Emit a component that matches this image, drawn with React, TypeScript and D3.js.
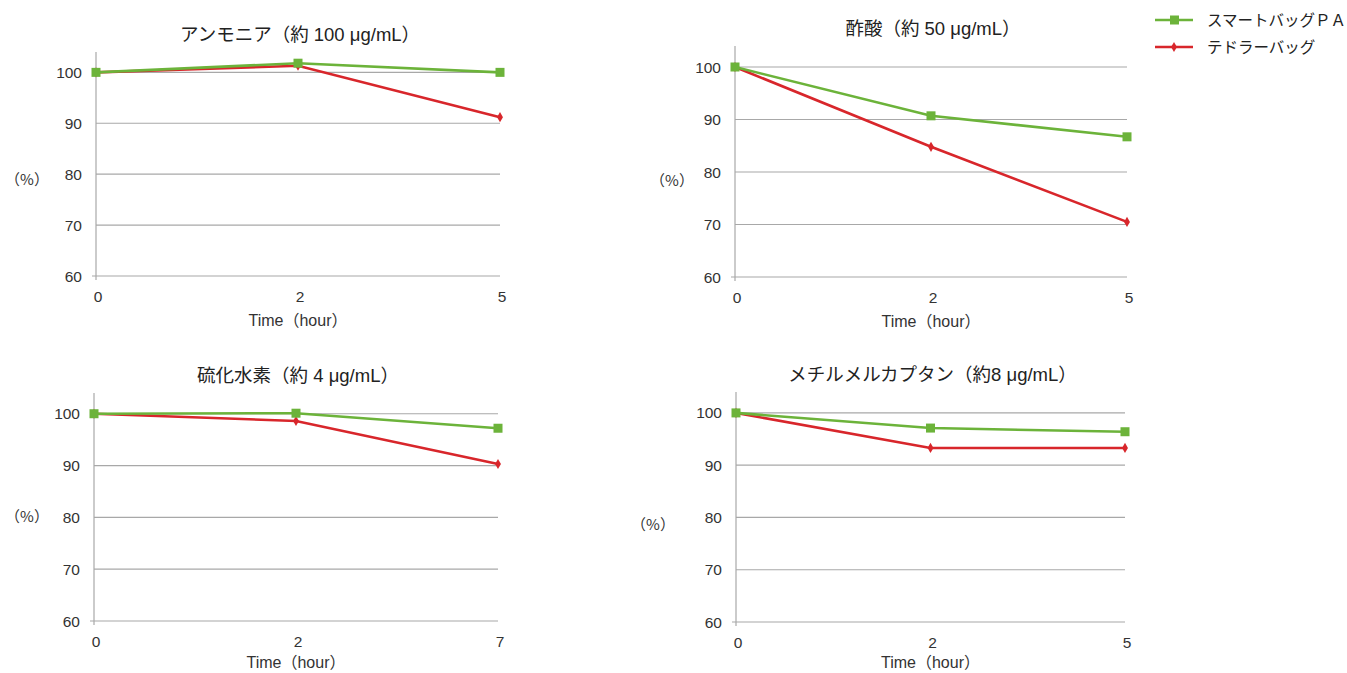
import React, { useEffect, useRef } from 'react';
import * as d3 from 'd3';

// chart data
const panelTitles = [
  'アンモニア（約 100 μg/mL）',
  '酢酸（約 50 μg/mL）',
  '硫化水素（約 4 μg/mL）',
  'メチルメルカプタン（約8 μg/mL）',
];
const timeTicks = [
  ['0', '2', '5'],
  ['0', '2', '5'],
  ['0', '2', '7'],
  ['0', '2', '5'],
];
const smartBagPA = [
  [100, 101.8, 100],
  [100, 90.7, 86.7],
  [100, 100.1, 97.2],
  [100, 97.1, 96.4],
];
const tedlarBag = [
  [100, 101.3, 91.2],
  [100, 84.8, 70.5],
  [100, 98.6, 90.3],
  [100, 93.3, 93.3],
];
const yTicks = [60, 70, 80, 90, 100];
const seriesNames = ['スマートバッグＰＡ', 'テドラーバッグ'];

const GREEN = '#6cb33a';
const RED = '#d8262b';
const GRID = '#a8a8a8';
const TEXT = '#333333';
const FONT = "'Liberation Sans', 'Noto Sans CJK JP', sans-serif";

// plot boxes for the four panels
const boxes = [
  { left: 96, right: 500, top: 52, bottom: 276, pctX: 27, pctY: 179 },
  { left: 735, right: 1127, top: 46, bottom: 277, pctX: 672, pctY: 180 },
  { left: 94, right: 498, top: 393, bottom: 621, pctX: 27, pctY: 516 },
  { left: 736, right: 1125, top: 392, bottom: 622, pctX: 653, pctY: 524 },
];

const App = () => {
  const svgRef = useRef<SVGSVGElement>(null);

  useEffect(() => {
    const svg = d3.select(svgRef.current);
    svg.selectAll('*').remove();

    boxes.forEach((b, i) => {
      const g = svg.append('g');
      const x = d3.scalePoint<string>().domain(timeTicks[i]).range([b.left, b.right]);
      const y = d3.scaleLinear().domain([60, 104]).range([b.bottom, b.top]);

      // gridlines
      g.selectAll('.grid')
        .data(yTicks)
        .enter().append('line')
        .attr('x1', d => (d === 60 ? b.left - 4 : b.left))
        .attr('x2', b.right)
        .attr('y1', d => y(d))
        .attr('y2', d => y(d))
        .attr('stroke', GRID)
        .attr('stroke-width', 1.2);

      // y axis line
      g.append('line')
        .attr('x1', b.left).attr('x2', b.left)
        .attr('y1', y(104)).attr('y2', y(60) + 4)
        .attr('stroke', GRID)
        .attr('stroke-width', 1.2);

      // y tick labels
      g.selectAll('.ylab')
        .data(yTicks)
        .enter().append('text')
        .attr('x', b.left - 14)
        .attr('y', d => y(d) + 5.5)
        .attr('text-anchor', 'end')
        .style('font-family', FONT)
        .style('font-size', '15.5px')
        .style('fill', TEXT)
        .text(d => d);

      // x tick labels
      g.selectAll('.xlab')
        .data(timeTicks[i])
        .enter().append('text')
        .attr('x', d => (x(d) as number) + 2)
        .attr('y', y(60) + 26)
        .attr('text-anchor', 'middle')
        .style('font-family', FONT)
        .style('font-size', '15.5px')
        .style('fill', TEXT)
        .text(d => d);

      // axis title
      g.append('text')
        .attr('x', (b.left + b.right) / 2)
        .attr('y', Math.min(y(60) + 50, 668))
        .attr('text-anchor', 'middle')
        .style('font-family', FONT)
        .style('font-size', '16px')
        .style('fill', TEXT)
        .text('Time（hour）');

      g.append('text')
        .attr('x', b.pctX)
        .attr('y', b.pctY + 5.5)
        .attr('text-anchor', 'middle')
        .style('font-family', "'Noto Sans CJK JP', sans-serif")
        .style('font-size', '15px')
        .style('fill', TEXT)
        .text('（%）');

      // panel title
      g.append('text')
        .attr('x', (b.left + b.right) / 2 + 2)
        .attr('y', y(104) - 11)
        .attr('text-anchor', 'middle')
        .style('font-family', FONT)
        .style('font-size', '18.5px')
        .style('fill', '#222')
        .text(panelTitles[i]);

      const line = d3.line<number>()
        .x((_, j) => x(timeTicks[i][j]) as number)
        .y(d => y(d));

      // tedlar bag (red, diamonds)
      g.append('path')
        .datum(tedlarBag[i])
        .attr('fill', 'none')
        .attr('stroke', RED)
        .attr('stroke-width', 2.6)
        .attr('d', line);
      g.selectAll('.dia')
        .data(tedlarBag[i])
        .enter().append('path')
        .attr('d', d3.symbol(d3.symbolDiamond, 30)())
        .attr('transform', (d, j) => `translate(${x(timeTicks[i][j])},${y(d)})`)
        .attr('fill', RED);

      // smart bag PA (green, squares)
      g.append('path')
        .datum(smartBagPA[i])
        .attr('fill', 'none')
        .attr('stroke', GREEN)
        .attr('stroke-width', 2.6)
        .attr('d', line);
      g.selectAll('.sq')
        .data(smartBagPA[i])
        .enter().append('rect')
        .attr('x', (_, j) => (x(timeTicks[i][j]) as number) - 4.5)
        .attr('y', d => y(d) - 4.5)
        .attr('width', 9)
        .attr('height', 9)
        .attr('fill', GREEN);
    });

    // legend
    const legend = svg.append('g').attr('transform', 'translate(1155,20)');
    seriesNames.forEach((name, k) => {
      const row = legend.append('g').attr('transform', `translate(0,${k * 27})`);
      const color = k === 0 ? GREEN : RED;
      row.append('line')
        .attr('x1', 0).attr('x2', 38)
        .attr('stroke', color)
        .attr('stroke-width', 2.6);
      if (k === 0) {
        row.append('rect')
          .attr('x', 15).attr('y', -4.5)
          .attr('width', 9).attr('height', 9)
          .attr('fill', color);
      } else {
        row.append('path')
          .attr('d', d3.symbol(d3.symbolDiamond, 30)())
          .attr('transform', 'translate(19,0)')
          .attr('fill', color);
      }
      row.append('text')
        .attr('x', 52)
        .attr('y', 5.5)
        .style('font-family', FONT)
        .style('font-size', '15.5px')
        .style('fill', '#222')
        .text(name);
    });
  }, []);

  return (
    <div style={{ position: 'absolute', left: 0, top: 0, width: 1347, height: 673, background: '#fff' }}>
      <svg ref={svgRef} width={1347} height={673}></svg>
    </div>
  );
};

export default App;
